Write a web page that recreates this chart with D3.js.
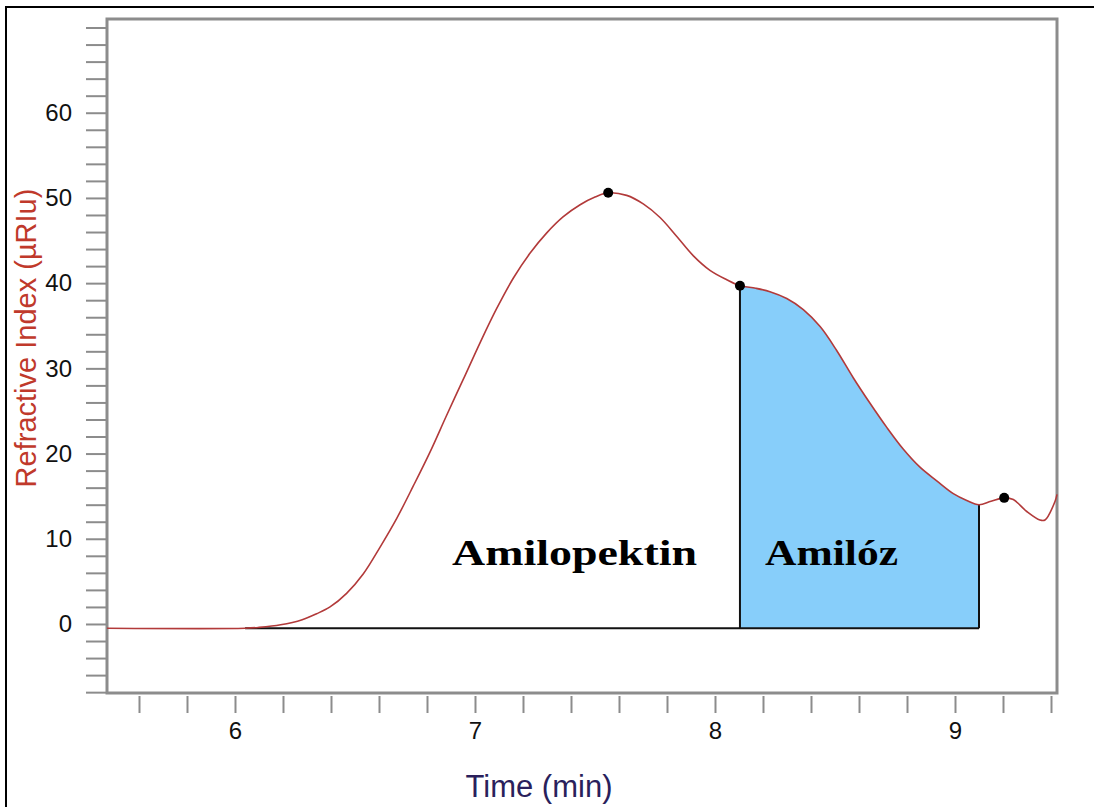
<!DOCTYPE html>
<html>
<head>
<meta charset="utf-8">
<script src="https://cdn.jsdelivr.net/npm/d3@7"></script>
<style>
  body { margin: 0; background: #fff; }
  svg { display: block; }
</style>
</head>
<body>
<script>
// retention time (min) and detector signal (µRIu)
const times = [5.467, 6.042, 6.1, 6.19, 6.28, 6.34, 6.396, 6.465, 6.535, 6.604, 6.674, 6.743, 6.813, 6.882, 6.951,
  7.021, 7.09, 7.16, 7.229, 7.299, 7.368, 7.438, 7.5, 7.555, 7.632, 7.701, 7.771, 7.84, 7.91, 7.979,
  8.049, 8.104, 8.17, 8.229, 8.299, 8.368, 8.438, 8.507, 8.576, 8.646, 8.715, 8.785, 8.854, 8.924,
  8.993, 9.049, 9.1, 9.15, 9.205, 9.243, 9.299, 9.354, 9.375, 9.417, 9.425];
const signal = [-0.5, -0.5, -0.4, -0.1, 0.5, 1.2, 2.0, 3.6, 5.9, 9.0, 12.4, 16.2, 20.2, 24.5, 28.7,
  33.0, 37.0, 40.6, 43.5, 45.9, 47.8, 49.2, 50.1, 50.6, 50.3, 49.3, 47.7, 45.5, 43.2, 41.5,
  40.4, 39.7, 39.4, 39.0, 38.2, 36.9, 34.9, 32.1, 28.9, 25.9, 23.1, 20.5, 18.4, 16.8,
  15.3, 14.5, 14.0, 14.4, 14.8, 14.6, 13.2, 12.2, 12.2, 14.4, 15.2];

// peak markers (time, signal)
const markerTimes = [7.555, 8.104, 9.205];
const markerValues = [50.6, 39.7, 14.8];

// integration: baseline start/end and the amylose cut
const baseStart = 6.042;
const baseEnd = 9.1;
const baseLevel = -0.5;
const cutTime = 8.104;

const xTickValues = d3.range(5.6, 9.41, 0.2);
const xLabelValues = [6, 7, 8, 9];
const yTickValues = d3.range(-8, 71, 2);
const yLabelValues = [0, 10, 20, 30, 40, 50, 60];

const peakLabels = ["Amilopektin", "Amilóz"];

const width = 1094, height = 807;
const plot = {left: 107, top: 19, right: 1057, bottom: 693};

const data = times.map(function (t, i) { return {t: t, v: signal[i]}; });

const svg = d3.select("body").append("svg")
  .attr("width", width)
  .attr("height", height);

const x = d3.scaleLinear().domain([5.4667, 9.425]).range([plot.left, plot.right]);
const y = d3.scaleLinear().domain([-8.1, 71.0]).range([plot.bottom, plot.top]);

// outer picture border (left and top only are visible)
svg.append("line").attr("x1", 6).attr("x2", 6).attr("y1", 6).attr("y2", height)
  .attr("stroke", "#000").attr("stroke-width", 2);
svg.append("line").attr("x1", 5).attr("x2", width).attr("y1", 7).attr("y2", 7)
  .attr("stroke", "#000").attr("stroke-width", 2);

// y axis ticks
const yAxis = svg.append("g")
  .attr("transform", "translate(" + (plot.left - 1) + ",0)")
  .call(d3.axisLeft(y).tickValues(yTickValues).tickSize(20).tickSizeOuter(0).tickPadding(14)
    .tickFormat(function (d) { return yLabelValues.indexOf(d) >= 0 ? d : ""; }));
yAxis.select(".domain").remove();
yAxis.selectAll(".tick line").attr("stroke", "#8c8c8c").attr("stroke-width", 2);
yAxis.selectAll(".tick text")
  .attr("fill", "#111")
  .style("font", "24px 'Liberation Sans', Arial, sans-serif");

// x axis ticks
const xAxis = svg.append("g")
  .attr("transform", "translate(0," + (plot.bottom + 3) + ")")
  .call(d3.axisBottom(x).tickValues(xTickValues).tickSize(17).tickSizeOuter(0).tickPadding(9)
    .tickFormat(function (d) {
      const r = Math.round(d * 10) / 10;
      return xLabelValues.indexOf(r) >= 0 ? r : "";
    }));
xAxis.select(".domain").remove();
xAxis.selectAll(".tick line").attr("stroke", "#8c8c8c").attr("stroke-width", 2);
xAxis.selectAll(".tick text")
  .attr("fill", "#111")
  .style("font", "24px 'Liberation Sans', Arial, sans-serif");

// plot frame
svg.append("rect")
  .attr("x", plot.left).attr("y", plot.top)
  .attr("width", plot.right - plot.left).attr("height", plot.bottom - plot.top)
  .attr("fill", "none").attr("stroke", "#8c8c8c").attr("stroke-width", 3);

const curve = d3.curveCatmullRom.alpha(0.5);

// amylose area, clipped between the cut and the baseline end
svg.append("clipPath").attr("id", "amyClip")
  .append("rect")
  .attr("x", x(cutTime)).attr("y", plot.top)
  .attr("width", x(baseEnd) - x(cutTime)).attr("height", y(baseLevel) - plot.top);

svg.append("path")
  .datum(data)
  .attr("clip-path", "url(#amyClip)")
  .attr("fill", "#87cefa")
  .attr("d", d3.area().curve(curve)
    .x(function (d) { return x(d.t); })
    .y0(y(baseLevel))
    .y1(function (d) { return y(d.v); }));

// integration baseline and drop lines
svg.append("line")
  .attr("x1", x(baseStart)).attr("x2", x(baseEnd))
  .attr("y1", y(baseLevel)).attr("y2", y(baseLevel))
  .attr("stroke", "#111").attr("stroke-width", 2);
svg.append("line")
  .attr("x1", x(cutTime)).attr("x2", x(cutTime))
  .attr("y1", y(baseLevel)).attr("y2", y(signal[times.indexOf(cutTime)]))
  .attr("stroke", "#111").attr("stroke-width", 2);
svg.append("line")
  .attr("x1", x(baseEnd)).attr("x2", x(baseEnd))
  .attr("y1", y(baseLevel)).attr("y2", y(signal[times.indexOf(baseEnd)]))
  .attr("stroke", "#111").attr("stroke-width", 2);

// chromatogram trace
svg.append("path")
  .datum(data)
  .attr("fill", "none")
  .attr("stroke", "#b23a3a")
  .attr("stroke-width", 1.6)
  .attr("d", d3.line().curve(curve)
    .x(function (d) { return x(d.t); })
    .y(function (d) { return y(d.v); }));

// peak markers
svg.append("g")
  .selectAll("circle")
  .data(markerTimes)
  .join("circle")
  .attr("cx", function (d) { return x(d); })
  .attr("cy", function (d, i) { return y(markerValues[i]); })
  .attr("r", 5)
  .attr("fill", "#000");

// peak names
svg.append("text")
  .attr("x", 452).attr("y", 565)
  .attr("textLength", 245).attr("lengthAdjust", "spacingAndGlyphs")
  .style("font", "bold 36px 'Liberation Serif', 'Times New Roman', serif")
  .attr("fill", "#000")
  .text(peakLabels[0]);
svg.append("text")
  .attr("x", 765).attr("y", 565)
  .attr("textLength", 133).attr("lengthAdjust", "spacingAndGlyphs")
  .style("font", "bold 36px 'Liberation Serif', 'Times New Roman', serif")
  .attr("fill", "#000")
  .text(peakLabels[1]);

// axis titles
svg.append("text")
  .attr("transform", "translate(26,338) rotate(-90)")
  .attr("text-anchor", "middle")
  .attr("dominant-baseline", "central")
  .attr("fill", "#c0392b")
  .style("font", "29px 'Liberation Sans', Arial, sans-serif")
  .text("Refractive Index (µRIu)");

svg.append("text")
  .attr("x", 539).attr("y", 797)
  .attr("text-anchor", "middle")
  .attr("fill", "#2a1f5c")
  .style("font", "31px 'Liberation Sans', Arial, sans-serif")
  .text("Time (min)");
</script>
</body>
</html>
